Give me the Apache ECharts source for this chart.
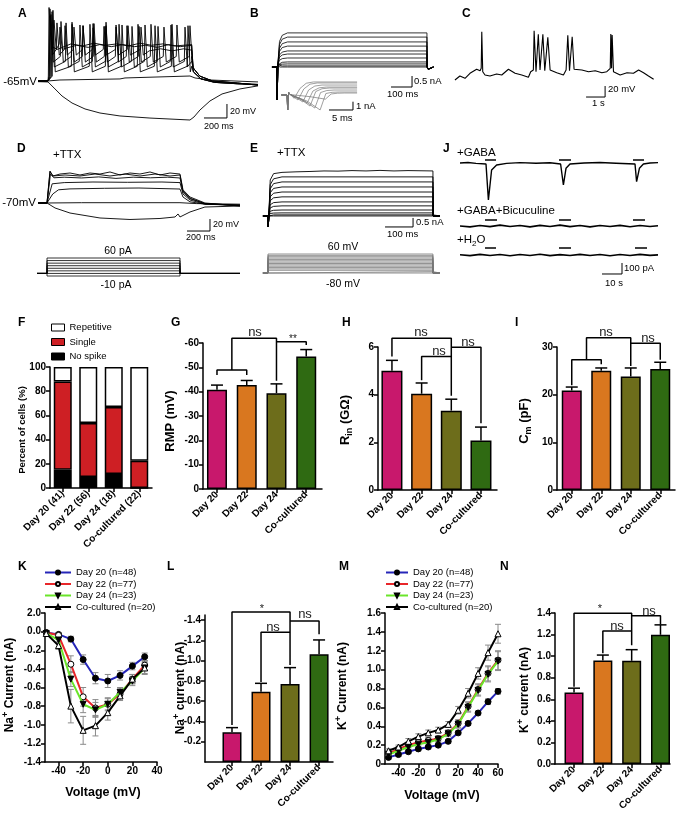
<!DOCTYPE html>
<html><head><meta charset="utf-8">
<script src="https://cdn.jsdelivr.net/npm/echarts@6/dist/echarts.min.js"></script>
<style>html,body{margin:0;padding:0;background:#fff}#c{width:677px;height:816px}</style>
</head><body><div id="c"></div><script>
const FONT = '"Liberation Sans", Arial, Helvetica, sans-serif';
// ================= DATA =================
// Panel A (ms, mV)
const aHyper = [[-87,-66],[0,-66.4],[61,-76.4],[122,-86.5],[209,-96.5],[322,-105],[452,-110.8],[626,-115],[887,-118],[1235,-120.8],[1270,-116.5],[1322,-106.5],[1409,-93.6],[1514,-83.6],[1670,-76.4],[1827,-72]];
const aSub = [[-87,-65],[0,-65],[104,-63.6],[626,-62.1],[670,-60.7],[1235,-57.9],[1279,-60.7],[1409,-63.6],[1827,-66.4]];
const aSpk1 = [[43,36],[209,19],[365,16],[505,19],[644,15],[783,16],[931,14],[1079,16],[1218,14]];
const aSpk2 = [[35,34],[157,18],[278,15],[392,17],[505,14],[618,16],[731,13],[844,15],[957,13],[1070,15],[1192,12]];
const aSpk3 = [[26,30],[113,20],[209,16],[305,14],[400,17],[496,13],[592,15],[687,14],[792,13],[896,16],[1009,12],[1122,15],[1235,14]];
const aSpk4 = [[17,28],[78,18],[148,14],[226,12],[305,14],[392,11],[487,13],[592,12],[696,14],[809,12]];
const aSpk5 = [[9,40],[52,22],[104,12]];
const aSpk6 = [[17,38]];
const aTroughs = [-52,-45,-38,-28,-20,-16];
const aPlat4 = [[880,-22],[980,-19],[1080,-22],[1180,-19],[1250,-21]];
const aPlat5 = [[160,-18],[250,-14],[350,-17],[450,-13],[550,-16],[650,-13],[750,-16],[850,-14],[950,-17],[1050,-13],[1150,-16],[1250,-14]];
const aPlat6 = [[80,-20],[200,-12],[300,-15],[400,-11],[500,-14],[600,-12],[700,-15],[800,-11],[900,-14],[1000,-12],[1100,-15],[1250,-13]];
const aTailA = [[1265,-52],[1330,-62],[1450,-67],[1650,-69],[1827,-70]];
const aTailB = [[1262,-46],[1320,-58],[1430,-65],[1650,-68],[1827,-71]];
// Panel B (ms, nA)
const bLevels = [1.55,1.36,1.14,0.95,0.73,0.59,0.41,0.23,0.14,0.05,0.0];
const bInsetDip = [[1.5,-0.4],[2.3,-0.6],[3.3,-0.84],[4.2,-0.96],[4.8,-1.33],[5.8,-1.57],[6.9,-1.8],[8,-0.5]];
const bInsetPlat = [1.57,1.45,1.2,0.96,0.84,0.6,0.36,0.24];
// Panel C (s, mV)
const cTrace = [[0,-69.1],[0.26,-61.8],[0.53,-66],[0.79,-56.9],[1.14,-49.6],[1.32,-52.2],[1.38,-47.8],[1.41,18.7],[1.46,-54],[1.58,-60],[1.84,-61.8],[2.19,-58.2],[2.46,-60],[2.81,-49.6],[3.16,-56.9],[3.51,-60],[3.86,-64.2],[3.98,-54],[4.12,-50.9],[4.16,20.5],[4.26,-54],[4.38,14],[4.47,-50.9],[4.62,14],[4.72,-52.2],[4.88,8.5],[5.0,-50.9],[5.35,-55.8],[5.7,-60],[5.84,-50.9],[5.93,12.2],[6.02,-52.2],[6.16,9.6],[6.26,-49.6],[6.67,-50.9],[7.02,-54],[7.37,-52.2],[7.72,-55.8],[7.98,-54],[8.16,-47.8],[8.19,14.5],[8.23,-47.8],[8.26,12.7],[8.33,-54],[8.68,-60],[9.04,-55.8],[9.38,-56.9],[9.65,-50.9],[9.91,-55.8],[10.17,-61.8],[10.44,-67.8]];
// Panel D (ms, mV)
const dTraces = [
 [[-78,-70],[0,-70],[26,-16.7],[52,-25],[113,-21.7],[200,-20],[287,-23.3],[374,-20],[461,-21.7],[548,-18.3],[635,-23.3],[722,-20],[809,-21.7],[896,-18.3],[983,-23.3],[1070,-20],[1157,-21.7],[1183,-48],[1244,-60],[1374,-70],[1679,-75]],
 [[-78,-70],[0,-70],[26,-18],[52,-25],[157,-23.3],[287,-25],[418,-21.7],[548,-25],[679,-21.7],[809,-25],[940,-21.7],[1070,-25],[1157,-23.3],[1183,-50],[1244,-62],[1374,-71],[1679,-75]],
 [[-78,-70],[0,-70],[30,-22],[60,-28],[150,-27],[300,-28.3],[450,-26.5],[600,-29],[750,-27],[900,-28],[1050,-27],[1157,-28.3],[1183,-52],[1244,-63],[1374,-71],[1679,-74]],
 [[-78,-70],[0,-70],[45,-38],[150,-36],[400,-35],[700,-35.5],[1000,-35],[1157,-36],[1183,-55],[1244,-65],[1374,-72],[1679,-74]],
 [[-78,-70],[0,-70],[50,-55],[100,-48],[200,-46.5],[500,-45.5],[800,-45],[1157,-46.7],[1183,-60],[1244,-68],[1374,-72],[1679,-73]],
 [[-78,-70],[0,-70],[300,-69.5],[1157,-69.5],[1300,-71],[1679,-72]],
 [[-78,-70],[0,-70],[70,-78.3],[200,-86.7],[461,-95],[722,-97.5],[983,-95.8],[1114,-93.3],[1140,-88.3],[1157,-93.3],[1244,-85],[1374,-76.7],[1679,-75]]
];
const dStimLevels = [-10,0,10,20,30,40,50,60]; // pA
// Panel E (ms, nA)
const eLevels = [2.17,1.89,1.61,1.33,1.06,0.78,0.56,0.33,0.17,0.06,0.0];
const eTop = [[-18,0],[0,0],[1,-0.6],[3,0],[8,2.0],[20,2.35],[50,2.42],[100,2.45],[150,2.47],[200,2.5],[250,2.49],[300,2.52],[350,2.5],[400,2.53],[450,2.5],[500,2.52],[589,2.5],[590,0],[614,0]];
const eStimLevels = [-80,-70,-60,-50,-40,-30,-20,-10,0,10,20,30,40,50,60]; // mV
// Panel J (s, pA)
const j1 = [[0,0],[4,4],[8,-3],[13,-9],[14.2,-336],[15.8,-64],[18.3,-18],[23.3,-3],[30,3],[38,-2],[45,2],[50.3,-9],[51.7,-200],[53,-48],[55,-9],[62,0],[70,4],[78,-2],[87.5,-9],[88.3,-170],[89.7,-48],[91.7,-9],[95,0],[99,3]];
const j2 = [[0,0],[5,-8],[10,5],[15,-6],[20,8],[25,-5],[30,4],[35,-8],[40,6],[45,-4],[50,8],[55,-6],[60,4],[65,-8],[70,5],[75,-5],[80,6],[85,-7],[90,5],[95,-4],[99,2]];
const j3 = [[0,2],[5,-6],[10,6],[15,-5],[20,4],[25,-7],[30,5],[35,-4],[40,7],[45,-6],[50,3],[55,-5],[60,6],[65,-4],[70,5],[75,-7],[80,4],[85,-5],[90,6],[95,-3],[99,1]];
const j1Bars = [[12.5,18],[49.5,55.5],[86.5,92]];
const j2Bars = [[12.5,18.5],[49.5,55.5],[86.5,92.5]];
const j3Bars = [[12.5,18],[49.5,55.5],[87.5,93.5]];
// Bottom panels
const cats = ['Day 20','Day 22','Day 24','Co-cultured'];
const fCats = ['Day 20 (41)','Day 22 (56)','Day 24 (18)','Co-cultured (22)'];
const fNoSpike = [15, 9.1, 11.6, 0];
const fSingle = [73, 44.6, 55.4, 22.6];
const fRepetitive = [12, 46.3, 33, 77.4];
const rmp = [-40.8,-42.7,-39.4,-54.5];
const rmpErr = [-42.7,-44.6,-43.2,-57.3];
const rin = [5.0,4.04,3.33,2.08];
const rinErr = [5.44,4.49,3.81,2.64];
const cm = [20.9,25.0,23.8,25.4];
const cmErr = [21.6,25.6,25.6,26.8];
const naPeak = [-0.293,-0.694,-0.770,-1.062];
const naPeakErr = [-0.339,-0.776,-0.931,-1.204];
const kPeak = [0.663,0.96,0.957,1.198];
const kPeakErr = [0.703,1.01,1.06,1.29];
const ivNames = ['Day 20 (n=48)','Day 22 (n=77)','Day 24 (n=23)','Co-cultured (n=20)'];
const naV = [-50,-40,-30,-20,-10,0,10,20,30];
const na20 = [-0.01,-0.03,-0.08,-0.30,-0.50,-0.53,-0.47,-0.37,-0.27];
const na20e = [0.01,0.02,0.03,0.05,0.06,0.07,0.05,0.04,0.04];
const na22 = [-0.01,-0.04,-0.35,-0.70,-0.82,-0.78,-0.67,-0.51,-0.36];
const na22e = [0.01,0.02,0.09,0.10,0.09,0.07,0.05,0.05,0.05];
const na24 = [-0.02,-0.09,-0.51,-0.78,-0.84,-0.78,-0.65,-0.53,-0.39];
const na24e = [0.01,0.03,0.08,0.09,0.08,0.06,0.05,0.05,0.06];
const naCo = [-0.02,-0.15,-0.80,-1.06,-1.01,-0.87,-0.69,-0.51,-0.39];
const naCoe = [0.01,0.04,0.18,0.15,0.11,0.08,0.05,0.05,0.07];
const kV = [-50,-40,-30,-20,-10,0,10,20,30,40,50,60];
const k20 = [0.07,0.10,0.13,0.16,0.18,0.20,0.24,0.33,0.43,0.54,0.66,0.77];
const k20e = [0.02,0.02,0.02,0.02,0.02,0.02,0.02,0.02,0.02,0.02,0.03,0.03];
const k22 = [0.11,0.16,0.20,0.23,0.25,0.27,0.33,0.43,0.61,0.79,0.96,1.10];
const k22e = [0.02,0.02,0.03,0.03,0.03,0.03,0.03,0.04,0.05,0.06,0.08,0.10];
const k24 = [0.10,0.14,0.18,0.21,0.23,0.26,0.32,0.42,0.60,0.78,0.95,1.09];
const k24e = [0.02,0.02,0.03,0.03,0.03,0.03,0.03,0.04,0.05,0.06,0.08,0.10];
const kCo = [0.14,0.18,0.24,0.29,0.33,0.36,0.42,0.57,0.75,0.96,1.18,1.38];
const kCoe = [0.02,0.02,0.03,0.03,0.03,0.03,0.03,0.04,0.05,0.06,0.08,0.10];
// significance brackets (category index, value)
const gSig = [[[0,-46.9],[0,-48.9],[1,-48.9],[1,-46.9]],[[0.5,-48.9],[0.5,-62],[2,-62],[2,-44.5]],[[2,-60.5],[3,-60.5],[3,-59.2]]];
const hSig = [[[0,5.6],[0,6.37],[2,6.37],[2,3.95]],[[1,4.6],[1,5.6],[2,5.6]],[[2,5.99],[3,5.99],[3,2.8]]];
const iSig = [[[0,22.0],[0,27.3],[1,27.3],[1,26.4]],[[0.5,27.3],[0.5,31.95],[2,31.95],[2,26.0]],[[2,30.8],[3,30.8],[3,27.3]]];
const lSig = [[[0,-0.365],[0,-1.48],[2,-1.48],[2,-0.957]],[[2,-1.39],[3,-1.39],[3,-1.26]],[[1,-0.79],[1,-1.28],[2,-1.28]]];
const nSig = [[[0,0.716],[0,1.397],[2,1.397],[2,1.10]],[[2,1.374],[3,1.374],[3,1.295]],[[1,1.026],[1,1.233],[2,1.233]]];

// ================= BUILD =================
const grids=[], xs=[], ys=[], series=[], graphic=[];
function G(rect, xa, ya){ const i=grids.length; grids.push(rect); xs.push(Object.assign({gridIndex:i}, xa)); ys.push(Object.assign({gridIndex:i}, ya)); return i; }
function hid(min,max){ return {type:'value', min, max, show:false}; }
function line(gi, data, color, width, extra){ series.push(Object.assign({type:'line', xAxisIndex:gi, yAxisIndex:gi, data, symbol:'none', showSymbol:false, lineStyle:{color, width}, silent:true, clip:false, animation:false, z:2}, extra||{})); }
function T(x,y,text,o){ o=o||{}; const st={text, fill:o.color||'#000', font:o.font||('10px '+FONT), textAlign:o.align||'left', textVerticalAlign:o.va||'middle'}; if(o.rich) st.rich=o.rich; graphic.push({type:'text', x, y, rotation:o.rot||0, silent:true, style:st}); }
function scaleBar(gi, t0, t1, v0, v1){ line(gi, [[t0,v0],[t1,v0],[t1,v1]], '#000', 1); }

// ---- A ----
const gA = G({left:38, top:4, width:220, height:120}, hid(-87,1827), hid(-126.5,45));
function spikeTrace(spk, trough, plat, tail){
  const d=[[-87,-65],[0,-65]];
  spk.forEach(([t,p],i)=>{ d.push([Math.max(t-6,1), i===0?-58:trough+8]); d.push([t,p]); d.push([t+20,trough]); });
  if(plat) plat.forEach(q=>d.push(q)); else d.push([1250, trough+8]);
  tail.forEach(q=>d.push(q));
  return d;
}
line(gA, aHyper, '#000', 0.9);
line(gA, aSub, '#000', 0.9);
[[aSpk1,null,aTailA],[aSpk2,null,aTailB],[aSpk3,null,aTailA],[aSpk4,aPlat4,aTailB],[aSpk5,aPlat5,aTailA],[aSpk6,aPlat6,aTailB]].forEach((s,i)=>{
  line(gA, spikeTrace(s[0], aTroughs[i], s[1], s[2]), '#000', 0.9);
});
scaleBar(gA, 1357, 1557, -117.9, -97.9);
T(18,14,'A',{font:'bold 12px '+FONT});
T(37,82,'-65mV',{font:'11.5px '+FONT, align:'right'});
T(230,112,'20 mV',{font:'9px '+FONT});
T(204,127,'200 ms',{font:'9px '+FONT});

// ---- B ----
const gB = G({left:262, top:28, width:180, height:90}, hid(-71.4,785.7), hid(-2.318,1.773));
bLevels.forEach(L=>line(gB, [[-24,0],[0,0],[1,-1.5],[4,0.1],[12,L*0.75],[25,L*0.93],[50,L],[714,L],[715,0],[720,-0.1],[745,0]], '#000', 0.8));
scaleBar(gB, 543, 643, -0.909, -0.409);
const gBi = G({left:280, top:78, width:80, height:34}, hid(-1.458,15.21), hid(-2.048,2.048));
bInsetDip.forEach((dp,i)=>{ const pl=bInsetPlat[i]; line(gBi, [[-1.2,0],[0,0],[0.15,-1.8],[0.35,0.3],[0.7,0.05],[dp[0]*0.6,dp[1]*0.4],[dp[0],dp[1]],[dp[0]+1.2,pl*0.5],[dp[0]+2.5,pl*0.9],[dp[0]+4,pl],[14.6,pl]], '#777', 0.7); });
scaleBar(gBi, 8.75, 13.75, -1.807, -0.807);
T(250,14,'B',{font:'bold 12px '+FONT});
T(414,81,'0.5 nA',{font:'9.5px '+FONT});
T(387,94,'100 ms',{font:'9.5px '+FONT});
T(356,106,'1 nA',{font:'9.5px '+FONT});
T(332,118,'5 ms',{font:'9.5px '+FONT});

// ---- C ----
const gC = G({left:450, top:25, width:220, height:85}, hid(-0.26,11.3), hid(-123.6,30.9));
line(gC, cTrace, '#000', 1.1);
scaleBar(gC, 6.89, 7.89, -100, -80);
T(462,14,'C',{font:'bold 12px '+FONT});
T(608,89,'20 mV',{font:'9.5px '+FONT});
T(592,103,'1 s',{font:'9.5px '+FONT});

// ---- D ----
const gD = G({left:36, top:160, width:209, height:80}, hid(-95.7,1722.6), hid(-131.67,1.67));
dTraces.forEach(tr=>line(gD, tr, '#000', 0.9));
scaleBar(gD, 1218, 1418, -116.7, -96.7);
const gDs = G({left:36, top:258, width:209, height:18}, hid(-95.7,1722.6), hid(-10,60));
dStimLevels.forEach(L=>line(gDs, [[-87,0],[0,0],[0,L],[1157,L],[1157,0],[1679,0]], '#000', 0.8));
T(17,149,'D',{font:'bold 12px '+FONT});
T(53,155,'+TTX',{font:'11.5px '+FONT});
T(36,203,'-70mV',{font:'11.5px '+FONT, align:'right'});
T(213,225,'20 mV',{font:'9px '+FONT});
T(186,238,'200 ms',{font:'9px '+FONT});
T(118,251,'60 pA',{font:'10.5px '+FONT, align:'center'});
T(116,285,'-10 pA',{font:'10.5px '+FONT, align:'center'});

// ---- E ----
const gE = G({left:262, top:165, width:183, height:65}, hid(-21.4,632.1), hid(-0.78,2.83));
line(gE, eTop, '#000', 0.9);
eLevels.forEach(L=>line(gE, [[-18,0],[0,0],[1,-0.6],[3,0],[8,L*0.8],[20,L*0.95],[50,L],[589,L],[590,0],[614,0]], '#000', 0.9));
scaleBar(gE, 418, 518, -0.611, -0.111);
const gEs = G({left:262, top:254, width:183, height:19}, hid(-21.4,632.1), hid(-80,60));
eStimLevels.forEach(L=>line(gEs, [[-18,-80],[0,-80],[0,L],[589,L],[589,-80],[614,-80]], '#777', 0.8));
T(250,149,'E',{font:'bold 12px '+FONT});
T(277,153,'+TTX',{font:'11.5px '+FONT});
T(416,222,'0.5 nA',{font:'9.5px '+FONT});
T(387,234,'100 ms',{font:'9.5px '+FONT});
T(343,247,'60 mV',{font:'10.5px '+FONT, align:'center'});
T(343,284,'-80 mV',{font:'10.5px '+FONT, align:'center'});

// ---- J ----
const gJ1 = G({left:455, top:150, width:210, height:55}, hid(-2.5,102.5), hid(-381.8,118.2));
const gJ2 = G({left:455, top:214, width:210, height:18}, hid(-2.5,102.5), hid(-54.5,109.1));
const gJ3 = G({left:455, top:242, width:210, height:38}, hid(-2.5,102.5), hid(-227.3,118.2));
line(gJ1, j1, '#000', 1.4);
line(gJ2, j2, '#000', 1.6);
line(gJ3, j3, '#000', 1.6);
j1Bars.forEach(b=>line(gJ1, [[b[0],27],[b[1],27]], '#000', 1.4));
j2Bars.forEach(b=>line(gJ2, [[b[0],55],[b[1],55]], '#000', 1.4));
j3Bars.forEach(b=>line(gJ3, [[b[0],64],[b[1],64]], '#000', 1.4));
scaleBar(gJ3, 71, 81, -172.7, -72.7);
T(443,149,'J',{font:'bold 12px '+FONT});
T(457,153,'+GABA',{font:'11.5px '+FONT});
T(457,211,'+GABA+Bicuculine',{font:'11.5px '+FONT});
T(457,240,'{a|+H}{s|2}{a|O}',{font:'11.5px '+FONT, rich:{a:{font:'11.5px '+FONT, verticalAlign:'bottom'}, s:{font:'8px '+FONT, verticalAlign:'bottom', padding:[0,0,-2,0]}}});
T(624,268,'100 pA',{font:'9.5px '+FONT});
T(605,283,'10 s',{font:'9.5px '+FONT});

// ================= bottom charts =================
const AXL = {show:true, onZero:false, lineStyle:{color:'#000', width:1.5}};
const TK = {show:true, inside:false, length:4, lineStyle:{color:'#000', width:1.5}};
const LB = {color:'#000', fontFamily:FONT, fontSize:10, fontWeight:'bold', margin:4};
function yVal(min,max,interval,extra){ return Object.assign({type:'value', min, max, interval, axisLine:AXL, axisTick:TK, axisLabel:Object.assign({},LB), splitLine:{show:false}}, extra||{}); }
function xCat(min,max,labels){ return {type:'value', min, max, axisLine:AXL, axisTick:Object.assign({},TK,{customValues:[0,1,2,3]}), axisLabel:Object.assign({},LB,{customValues:[0,1,2,3], rotate:45, fontSize:10, formatter:v=>labels[Math.round(v)]}), splitLine:{show:false}}; }
const barColors = ['#C8186C','#D9771F','#6D6D1B','#2F6A12'];
function bars(gi, vals, w){ series.push({type:'bar', xAxisIndex:gi, yAxisIndex:gi, barWidth:w, silent:true, animation:false, z:2, data: vals.map((v,i)=>({value:[i,v], itemStyle:{color:barColors[i], borderColor:'#000', borderWidth:1.5}}))}); }
function errs(gi, rows, color, cap, width, z){
  series.push({type:'custom', xAxisIndex:gi, yAxisIndex:gi, silent:true, animation:false, clip:false, z:z||3, data:rows, encode:{x:0, y:[1,2]},
    renderItem:(p,api)=>{ const x=api.value(0), a=api.coord([x,api.value(1)]), b=api.coord([x,api.value(2)]);
      const st={stroke:color, lineWidth:width};
      const ch=[{type:'line',shape:{x1:a[0],y1:a[1],x2:b[0],y2:b[1]},style:st},{type:'line',shape:{x1:b[0]-cap,y1:b[1],x2:b[0]+cap,y2:b[1]},style:st}];
      if(api.value(3)) ch.push({type:'line',shape:{x1:a[0]-cap,y1:a[1],x2:a[0]+cap,y2:a[1]},style:st});
      return {type:'group', children:ch}; }});
}
function barErr(gi, vals, tops){ errs(gi, vals.map((v,i)=>[i, v, tops[i], 0]), '#000', 6, 1.5, 3); }
function sig(gi, list){ list.forEach(s=>line(gi, s, '#000', 1.5, {z:4})); }
const NS = '13px '+FONT;

// ---- F (stacked, category axis) ----
const gF = G({left:50, top:367, width:102, height:121},
  {type:'category', data:fCats, boundaryGap:true, axisLine:AXL, axisTick:Object.assign({},TK,{alignWithLabel:true}), axisLabel:Object.assign({},LB,{rotate:45, interval:0})},
  yVal(0,100,20));
[['No spike',fNoSpike,'#000'],['Single',fSingle,'#CE1F24'],['Repetitive',fRepetitive,'#fff']].forEach(([n,d,c])=>{
  series.push({type:'bar', name:n, stack:'f', xAxisIndex:gF, yAxisIndex:gF, barWidth:18, silent:true, animation:false, data:d, itemStyle:{color:c, borderColor:'#000', borderWidth:1.5}});
});
T(18,323,'F',{font:'bold 12px '+FONT});
T(22,430,'Percent of cells (%)',{font:'bold 9.5px '+FONT, align:'center', rot:Math.PI/2});

// ---- G ----
const gG = G({left:203, top:343, width:119, height:146}, xCat(-0.47,3.53,cats), yVal(-60,0,10,{inverse:true}));
bars(gG, rmp, 20); barErr(gG, rmp, rmpErr); sig(gG, gSig);
T(171,323,'G',{font:'bold 12px '+FONT});
T(170,421,'RMP (mV)',{font:'bold 13px '+FONT, align:'center', rot:Math.PI/2});
T(255,332,'ns',{font:NS, align:'center', color:'#222'});
T(293,339,'**',{font:'10px '+FONT, align:'center', color:'#222'});

// ---- H ----
const gH = G({left:378, top:347, width:119, height:143}, xCat(-0.47,3.54,cats), yVal(0,6,2));
bars(gH, rin, 21); barErr(gH, rin, rinErr); sig(gH, hSig);
T(342,323,'H',{font:'bold 12px '+FONT});
T(345,420,'{a|R}{s|in}{a| (GΩ)}',{font:'bold 13px '+FONT, align:'center', rot:Math.PI/2, rich:{a:{font:'bold 13px '+FONT, verticalAlign:'bottom'}, s:{font:'bold 9px '+FONT, verticalAlign:'bottom', padding:[0,0,-3,0]}}});
T(421,332,'ns',{font:NS, align:'center', color:'#222'});
T(439,351,'ns',{font:NS, align:'center', color:'#222'});
T(468,342,'ns',{font:NS, align:'center', color:'#222'});

// ---- I ----
const gI = G({left:557, top:347, width:118, height:143}, xCat(-0.5,3.5,cats), yVal(0,30,10));
bars(gI, cm, 20); barErr(gI, cm, cmErr); sig(gI, iSig);
T(515,323,'I',{font:'bold 12px '+FONT});
T(524,421,'{a|C}{s|m}{a| (pF)}',{font:'bold 13px '+FONT, align:'center', rot:Math.PI/2, rich:{a:{font:'bold 13px '+FONT, verticalAlign:'bottom'}, s:{font:'bold 9px '+FONT, verticalAlign:'bottom', padding:[0,0,-3,0]}}});
T(606,332,'ns',{font:NS, align:'center', color:'#222'});
T(648,338,'ns',{font:NS, align:'center', color:'#222'});

// ---- K ----
const ivStyle = [
  {color:'#2626B8', fill:'#000', sym:'circle', rot:0},
  {color:'#E8262A', fill:'#fff', sym:'circle', rot:0},
  {color:'#6AE52A', fill:'#000', sym:'triangle', rot:180},
  {color:'#000', fill:'#fff', sym:'triangle', rot:0}
];
function ivSeries(gi, xv, sets){
  sets.forEach(([ysArr, eArr], k)=>{ errs(gi, xv.map((x,i)=>[x, ysArr[i]-eArr[i], ysArr[i]+eArr[i], 1]), '#8a8a8a', 3, 1, 2); });
  sets.forEach(([ysArr], k)=>{ const s=ivStyle[k]; series.push({type:'line', name:ivNames[k], xAxisIndex:gi, yAxisIndex:gi, data:xv.map((x,i)=>[x,ysArr[i]]), symbol:s.sym, symbolSize:6, symbolRotate:s.rot, showSymbol:true, lineStyle:{color:s.color, width:2}, itemStyle:{color:s.fill, borderColor:'#000', borderWidth:1}, z:5+k, animation:false, silent:true, clip:false}); });
}
const gK = G({left:45, top:613, width:112, height:149},
  Object.assign(yVal(-51,40,null), {interval:undefined, axisTick:Object.assign({},TK,{customValues:[-40,-20,0,20,40]}), axisLabel:Object.assign({},LB,{customValues:[-40,-20,0,20,40]})}),
  yVal(-1.4,0.2,0.2,{axisLabel:Object.assign({},LB,{formatter:v=>Math.abs(v-0.2)<1e-6?'2.0':v.toFixed(1)})}));
ivSeries(gK, naV, [[na20,na20e],[na22,na22e],[na24,na24e],[naCo,naCoe]]);
T(18,567,'K',{font:'bold 12px '+FONT});
T(10,685,'{a|Na}{s|+}{a| Current (nA)}',{font:'bold 12px '+FONT, align:'center', rot:Math.PI/2, rich:{a:{font:'bold 12px '+FONT, verticalAlign:'top'}, s:{font:'bold 9px '+FONT, verticalAlign:'top', padding:[-3,0,0,0]}}});
T(103,793,'Voltage (mV)',{font:'bold 12.5px '+FONT, align:'center'});

// ---- L ----
const gL = G({left:205, top:615, width:128, height:147}, xCat(-0.93,3.48,cats),
  yVal(-1.45,0,null,{inverse:true, interval:undefined, axisTick:Object.assign({},TK,{customValues:[-1.4,-1.2,-1.0,-0.8,-0.6,-0.4,-0.2]}), axisLabel:Object.assign({},LB,{customValues:[-1.4,-1.2,-1.0,-0.8,-0.6,-0.4,-0.2], formatter:v=>v.toFixed(1)})}));
bars(gL, naPeak, 19); barErr(gL, naPeak, naPeakErr); sig(gL, lSig);
T(167,567,'L',{font:'bold 12px '+FONT});
T(181,688,'{a|Na}{s|+}{a| current (nA)}',{font:'bold 12px '+FONT, align:'center', rot:Math.PI/2, rich:{a:{font:'bold 12px '+FONT, verticalAlign:'top'}, s:{font:'bold 9px '+FONT, verticalAlign:'top', padding:[-3,0,0,0]}}});
T(262,609,'*',{font:'11px '+FONT, align:'center', color:'#222'});
T(273,627,'ns',{font:NS, align:'center', color:'#222'});
T(305,614,'ns',{font:NS, align:'center', color:'#222'});

// ---- M ----
const gM = G({left:385, top:613, width:113, height:151},
  Object.assign(yVal(-53.5,60,null), {interval:undefined, axisTick:Object.assign({},TK,{customValues:[-40,-20,0,20,40,60]}), axisLabel:Object.assign({},LB,{customValues:[-40,-20,0,20,40,60]})}),
  yVal(0,1.6,0.2,{axisLabel:Object.assign({},LB,{formatter:v=>v===0?'0':v.toFixed(1)})}));
ivSeries(gM, kV, [[k20,k20e],[k22,k22e],[k24,k24e],[kCo,kCoe]]);
T(339,567,'M',{font:'bold 12px '+FONT});
T(343,686,'{a|K}{s|+}{a| Current (nA)}',{font:'bold 12px '+FONT, align:'center', rot:Math.PI/2, rich:{a:{font:'bold 12px '+FONT, verticalAlign:'top'}, s:{font:'bold 9px '+FONT, verticalAlign:'top', padding:[-3,0,0,0]}}});
T(442,796,'Voltage (mV)',{font:'bold 12.5px '+FONT, align:'center'});

// ---- N ----
const gN = G({left:555, top:613, width:115, height:151}, xCat(-0.66,3.33,cats), yVal(0,1.4,0.2,{axisLabel:Object.assign({},LB,{formatter:v=>v.toFixed(1)})}));
bars(gN, kPeak, 19); barErr(gN, kPeak, kPeakErr); sig(gN, nSig);
T(500,567,'N',{font:'bold 12px '+FONT});
T(525,690,'{a|K}{s|+}{a| current (nA)}',{font:'bold 12px '+FONT, align:'center', rot:Math.PI/2, rich:{a:{font:'bold 12px '+FONT, verticalAlign:'top'}, s:{font:'bold 9px '+FONT, verticalAlign:'top', padding:[-3,0,0,0]}}});
T(600,609,'*',{font:'11px '+FONT, align:'center', color:'#222'});
T(617,626,'ns',{font:NS, align:'center', color:'#222'});
T(649,611,'ns',{font:NS, align:'center', color:'#222'});

const legTxt = {fontSize:9.5, fontFamily:FONT, color:'#000', lineHeight:11};
const option = {
  animation:false,
  backgroundColor:'#fff',
  textStyle:{fontFamily:FONT},
  grid:grids, xAxis:xs, yAxis:ys, series,
  legend:[
    {data:['Repetitive','Single','No spike'], left:51, top:322, padding:0, orient:'vertical', icon:'rect', itemWidth:13, itemHeight:7, itemGap:3.5, textStyle:legTxt, selectedMode:false, itemStyle:{borderColor:'#000', borderWidth:1}},
    {data:ivNames, left:44, top:567, padding:0, orient:'vertical', itemWidth:26, itemHeight:5, itemGap:0.5, textStyle:legTxt, selectedMode:false},
    {data:ivNames, left:385, top:567, padding:0, orient:'vertical', itemWidth:22, itemHeight:5, itemGap:0.5, textStyle:legTxt, selectedMode:false}
  ],
  graphic:{elements:graphic}
};
const chart = echarts.init(document.getElementById('c'), null, {renderer:'canvas', width:677, height:816});
chart.setOption(option);
</script></body></html>
